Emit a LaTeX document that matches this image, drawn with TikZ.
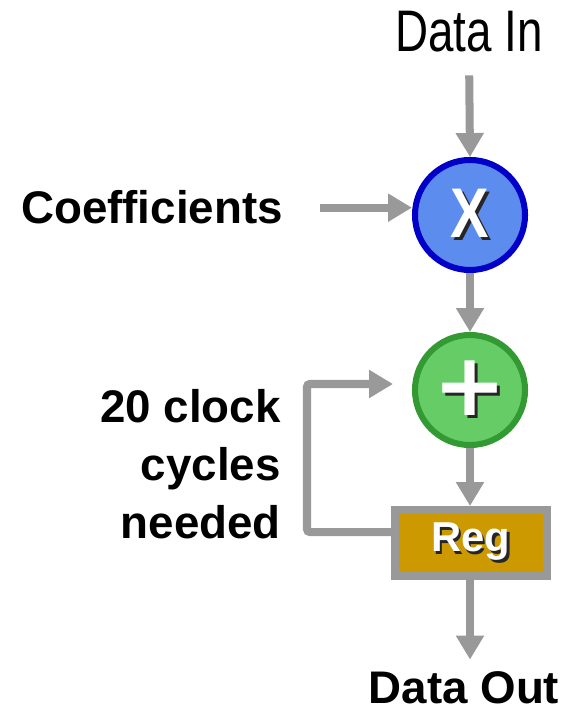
\documentclass[tikz,border=0pt]{standalone}
\usepackage{fontspec}
\setmainfont{Liberation Sans}
\newfontfamily\symfont{DejaVu Sans}
\usetikzlibrary{positioning,arrows.meta}

\definecolor{flowgray}{RGB}{153,153,153}
\definecolor{multfill}{RGB}{92,140,238}
\definecolor{multedge}{RGB}{0,0,200}
\definecolor{addfill}{RGB}{102,204,102}
\definecolor{addedge}{RGB}{51,153,51}
\definecolor{regfill}{RGB}{204,153,0}

% white glyphs with a dark drop shadow
\newcommand{\dropshadow}[2][1.6pt]{\makebox[0pt][l]{\hspace{#1}\raisebox{-#1}{\color{black!85}#2}}{\color{white}#2}}

\begin{document}
\begin{tikzpicture}[x=0.025cm, y=-0.025cm,
    flow/.style={draw=flowgray, line width=5.7pt, -{Triangle[length=17pt,width=19pt]}},
    lbl/.style={inner sep=0pt, font=\fontsize{32.5}{41.3}\selectfont\bfseries},
    op/.style={circle, line width=4.3pt, minimum size=2.75cm, inner sep=0pt}]
    \useasboundingbox (0,0) rectangle (571,715);

    \node[inner sep=0pt, anchor=base, font=\fontsize{41.7}{50}\selectfont] (datain) at (469,52) {\scalebox{0.78}[1]{Data In}};
    \node[lbl, anchor=base east] (coeff) at (283,224) {Coefficients};
    \node[lbl, align=right, anchor=north east] (cycles) at (281,389) {20 clock\\cycles\\needed};
    \node[lbl, anchor=base] (dataout) at (464,703) {Data Out};

    \node[op, fill=multfill, draw=multedge, font=\fontsize{50}{50}\selectfont\bfseries] (mult) at (470,215) {\dropshadow[2.2pt]{\scalebox{0.82}[1]{X}}};
    \node[op, fill=addfill, draw=addedge, font=\fontsize{62}{62}\selectfont\symfont\bfseries] (add) at (470,390) {\dropshadow[2.2pt]{+}};
    \node[draw=flowgray, fill=regfill, line width=5.7pt, minimum width=3.8cm, minimum height=1.65cm,
          inner sep=0pt, font=\fontsize{29.7}{30}\selectfont\bfseries] (reg) at (471,543) {\dropshadow{Reg}};

    \coordinate (fbturn) at (307,384);
    \coordinate (fbend) at (393,384);

    \draw[flow, shorten <=16pt] (datain.south) -- (mult.north);
    \draw[flow, shorten <=26pt] (coeff.east) -- (coeff.east -| mult.west);
    \draw[flow] (mult.south) -- (add.north);
    \draw[flow] (add.south) -- (add.south |- reg.north);
    \draw[flow, shorten >=8pt] (add.south |- reg.south) -- (add.south |- dataout.north);
    \draw[flow, rounded corners=2pt] ([yshift=7.8pt]reg.west) -| (fbturn) -- (fbend);
\end{tikzpicture}
\end{document}
